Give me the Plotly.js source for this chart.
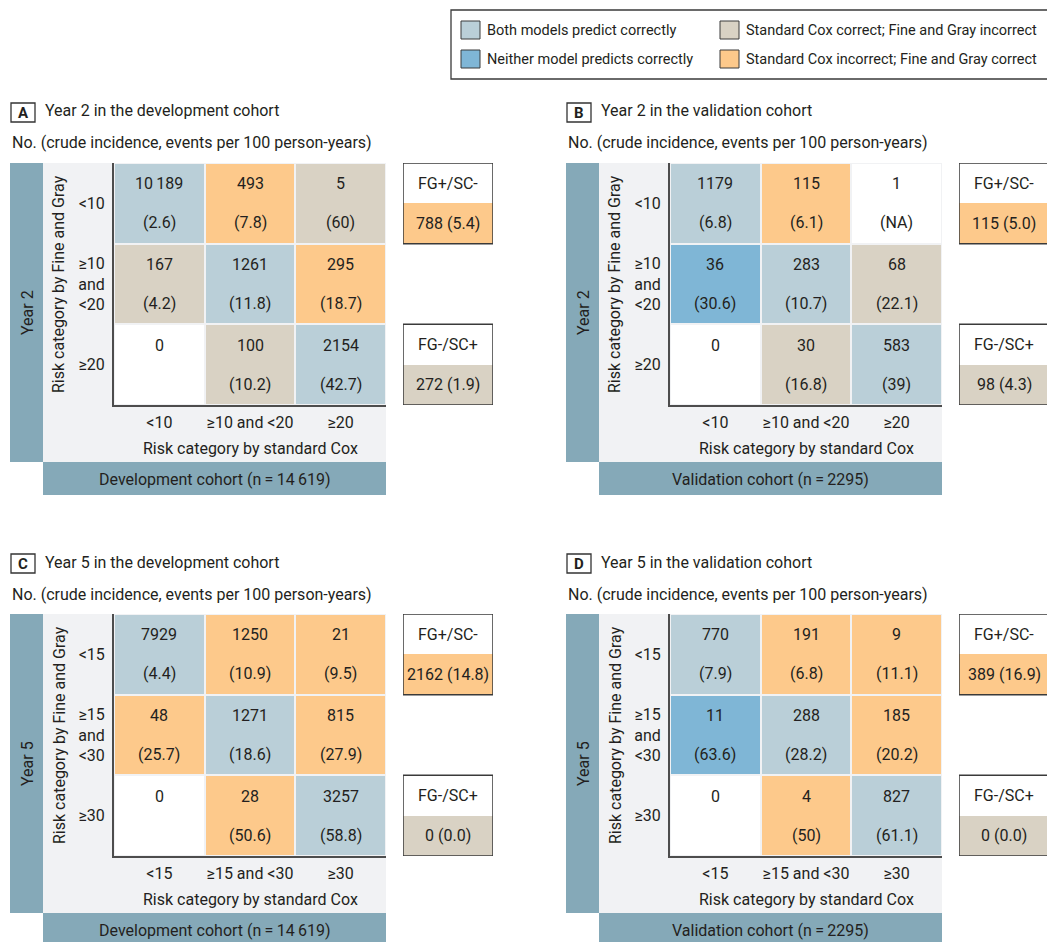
<!DOCTYPE html>
<html><head><meta charset="utf-8">
<script src="https://cdn.plot.ly/plotly-3.0.1.min.js"></script>
<style>html,body{margin:0;padding:0;background:#fff}#chart{width:1047px;height:942px}</style>
</head><body><div id="chart"></div>
<script>
// ---------------- DATA ----------------
const panelLetters = ['A', 'B', 'C', 'D'];
const panelTitles = ['Year 2 in the development cohort', 'Year 2 in the validation cohort',
                     'Year 5 in the development cohort', 'Year 5 in the validation cohort'];
const subtitleText = 'No. (crude incidence, events per 100 person-years)';
const yearLabels = ['Year 2', 'Year 2', 'Year 5', 'Year 5'];
const cohortLabels = ['Development cohort (n\u2009=\u200914\u2009619)', 'Validation cohort (n\u2009=\u20092295)',
                      'Development cohort (n\u2009=\u200914\u2009619)', 'Validation cohort (n\u2009=\u20092295)'];
const xAxisTitle = 'Risk category by standard Cox';
const yAxisTitle = 'Risk category by Fine and Gray';

const year2ColLabels = ['<10', '≥10 and <20', '≥20'];
const year2RowLabels = ['<10', '≥10<br>and<br><20', '≥20'];
const year5ColLabels = ['<15', '≥15 and <30', '≥30'];
const year5RowLabels = ['<15', '≥15<br>and<br><30', '≥30'];

// counts [FG row][SC col]
const countsA = [[10189, 493, 5], [167, 1261, 295], [0, 100, 2154]];
const countsB = [[1179, 115, 1], [36, 283, 68], [0, 30, 583]];
const countsC = [[7929, 1250, 21], [48, 1271, 815], [0, 28, 3257]];
const countsD = [[770, 191, 9], [11, 288, 185], [0, 4, 827]];

// crude incidence, events per 100 person-years ('' = not shown)
const incidenceA = [['2.6', '7.8', '60'], ['4.2', '11.8', '18.7'], ['', '10.2', '42.7']];
const incidenceB = [['6.8', '6.1', 'NA'], ['30.6', '10.7', '22.1'], ['', '16.8', '39']];
const incidenceC = [['4.4', '10.9', '9.5'], ['25.7', '18.6', '27.9'], ['', '50.6', '58.8']];
const incidenceD = [['7.9', '6.8', '11.1'], ['63.6', '28.2', '20.2'], ['', '50', '61.1']];

// cell class: 0 none, 1 both correct, 2 neither correct, 3 SC correct/FG incorrect, 4 SC incorrect/FG correct
const classA = [[1, 4, 3], [3, 1, 4], [0, 3, 1]];
const classB = [[1, 4, 0], [2, 1, 3], [0, 3, 1]];
const classC = [[1, 4, 4], [4, 1, 4], [0, 4, 1]];
const classD = [[1, 4, 4], [2, 1, 4], [0, 4, 1]];

const sideLabels = ['FG+/SC-', 'FG-/SC+'];
const sideValues = [['788 (5.4)', '272 (1.9)'], ['115 (5.0)', '98 (4.3)'],
                    ['2162 (14.8)', '0 (0.0)'], ['389 (16.9)', '0 (0.0)']];
const sideClasses = [4, 3];

const legendLabels = ['Both models predict correctly', 'Neither model predicts correctly',
                      'Standard Cox correct; Fine and Gray incorrect', 'Standard Cox incorrect; Fine and Gray correct'];
const legendClasses = [1, 2, 3, 4];

const panelCounts = [countsA, countsB, countsC, countsD];
const panelIncidence = [incidenceA, incidenceB, incidenceC, incidenceD];
const panelClasses = [classA, classB, classC, classD];
const panelColLabels = [year2ColLabels, year2ColLabels, year5ColLabels, year5ColLabels];
const panelRowLabels = [year2RowLabels, year2RowLabels, year5RowLabels, year5RowLabels];

// ---------------- STYLE ----------------
const W = 1047, H = 942;
const FONT = 'Roboto, "Liberation Sans", Arial, sans-serif';
const TXT = '#231f20';
const CLASS_COLORS = ['#ffffff', '#bacfd8', '#7fb6d6', '#d9d2c4', '#fdc98b'];
const BAND = '#85a9b8';
const PANEL_BG = '#f1f2f4';
const offsets = [[0, 0], [556, 0], [0, 451], [556, 451]];

const colorscale = [];
CLASS_COLORS.forEach((c, i) => { colorscale.push([i / 5, c]); colorscale.push([(i + 1) / 5, c]); });

const px = v => v / W, py = v => 1 - v / H;
const data = [], shapes = [], annotations = [];
const layout = {
  width: W, height: H, margin: {l: 0, r: 0, t: 0, b: 0},
  paper_bgcolor: '#ffffff', plot_bgcolor: 'rgba(0,0,0,0)', showlegend: false,
  font: {family: FONT, size: 16, color: TXT}
};

function ann(x, y, text, opts) {
  annotations.push(Object.assign({x: px(x), y: py(y), xref: 'paper', yref: 'paper', text: text,
    showarrow: false, xanchor: 'center', yanchor: 'middle', font: {family: FONT, size: 16, color: TXT}}, opts || {}));
}
function rect(x0, y0, x1, y1, fill, line, layer) {
  shapes.push({type: 'rect', xref: 'paper', yref: 'paper', x0: px(x0), x1: px(x1), y0: py(y1), y1: py(y0),
    fillcolor: fill, line: line || {width: 0}, layer: layer || 'below'});
}

// ---------------- PANELS ----------------
panelLetters.forEach((letter, p) => {
  const [dx, dy] = offsets[p];
  const gi = 2 * p + 1, si = 2 * p + 2;
  const gx = gi === 1 ? 'x' : 'x' + gi, gy = gi === 1 ? 'y' : 'y' + gi;
  const sx = 'x' + si, sy = 'y' + si;

  // decorative bands
  rect(dx + 10, dy + 163, dx + 43, dy + 462, BAND);
  rect(dx + 43, dy + 163, dx + 386, dy + 462, PANEL_BG);
  rect(dx + 43, dy + 462, dx + 386, dy + 495, BAND);

  // letter box and titles
  rect(dx + 11, dy + 103, dx + 35, dy + 122, 'rgba(0,0,0,0)', {color: '#333', width: 1.3}, 'above');
  ann(dx + 23, dy + 112.5, '<b>' + letter + '</b>', {font: {family: FONT, size: 15, color: TXT}});
  ann(dx + 43, dy + 111, panelTitles[p], {xanchor: 'left'});
  ann(dx + 10, dy + 143, subtitleText, {xanchor: 'left'});
  ann(dx + 27, dy + 313, yearLabels[p], {textangle: -90});
  ann(dx + 59, dy + 284, yAxisTitle, {textangle: -90});
  ann(dx + 250, dy + 448, xAxisTitle);
  ann(dx + 214.5, dy + 479, cohortLabels[p]);

  // main grid axes
  layout[gi === 1 ? 'xaxis' : 'xaxis' + gi] = {
    domain: [px(dx + 114), px(dx + 386)], anchor: gy, range: [-0.5, 2.5],
    tickvals: [0, 1, 2], ticktext: panelColLabels[p], ticks: '', ticklabelstandoff: 2,
    showline: true, linecolor: '#4d4d4d', linewidth: 2, showgrid: false, zeroline: false,
    tickfont: {family: FONT, size: 16, color: TXT}, fixedrange: true
  };
  layout[gi === 1 ? 'yaxis' : 'yaxis' + gi] = {
    domain: [py(dy + 405), py(dy + 163)], anchor: gx, range: [2.5, -0.5],
    tickvals: [0, 1, 2], ticktext: panelRowLabels[p], ticks: '', ticklabelstandoff: 4,
    showline: true, linecolor: '#4d4d4d', linewidth: 2, showgrid: false, zeroline: false,
    tickfont: {family: FONT, size: 16, color: TXT}, fixedrange: true
  };
  data.push({
    type: 'heatmap', xaxis: gx, yaxis: gy, x: [0, 1, 2], y: [0, 1, 2], z: panelClasses[p],
    zmin: -0.5, zmax: 4.5, colorscale: colorscale, showscale: false, xgap: 2, ygap: 2, hoverinfo: 'skip'
  });
  panelCounts[p].forEach((row, r) => row.forEach((v, c) => {
    const txt = v >= 10000 ? String(v).slice(0, -3) + '\u2009' + String(v).slice(-3) : String(v);
    annotations.push({x: c, y: r, xref: gx, yref: gy, text: txt, showarrow: false, yshift: 19.5,
      font: {family: FONT, size: 16, color: TXT}});
    const inc = panelIncidence[p][r][c];
    if (inc !== '') annotations.push({x: c, y: r, xref: gx, yref: gy, text: '(' + inc + ')', showarrow: false,
      yshift: -19.5, font: {family: FONT, size: 16, color: TXT}});
  }));

  // side boxes (FG+/SC- and FG-/SC+)
  const left = dx + 403, right = Math.min(W, dx + 493);
  layout['xaxis' + si] = {domain: [px(left), px(right)], anchor: sy, range: [-0.5, -0.5 + (right - left) / 90],
    visible: false, fixedrange: true};
  layout['yaxis' + si] = {domain: [py(dy + 405), py(dy + 163)], anchor: sx, range: [5.5, -0.5],
    visible: false, fixedrange: true};
  data.push({
    type: 'heatmap', xaxis: sx, yaxis: sy, x: [0], y: [0, 1, 2, 3, 4, 5],
    z: [[0], [sideClasses[0]], [null], [null], [0], [sideClasses[1]]],
    zmin: -0.5, zmax: 4.5, colorscale: colorscale, showscale: false, hoverinfo: 'skip'
  });
  [0, 1].forEach(k => {
    shapes.push({type: 'rect', xref: sx, yref: sy, x0: -0.5, x1: 0.5, y0: 4 * k - 0.5, y1: 4 * k + 1.5,
      line: {color: '#3a3a3a', width: 1.5}, fillcolor: 'rgba(0,0,0,0)', layer: 'above'});
    annotations.push({x: 0, y: 4 * k, xref: sx, yref: sy, text: sideLabels[k], showarrow: false,
      font: {family: FONT, size: 16, color: TXT}});
    annotations.push({x: 0, y: 4 * k + 1, xref: sx, yref: sy, text: sideValues[p][k], showarrow: false,
      font: {family: FONT, size: 16, color: TXT}});
  });
});

// ---------------- LEGEND ----------------
rect(451, 10, 1070, 79, 'rgba(0,0,0,0)', {color: '#3a3a3a', width: 1.3}, 'above');
const legendPos = [[461, 21], [461, 50], [720, 21], [720, 50]];
legendLabels.forEach((lab, i) => {
  const [lx, ly] = legendPos[i];
  rect(lx, ly, lx + 19, ly + 18, CLASS_COLORS[legendClasses[i]], {color: '#3a3a3a', width: 1}, 'above');
  ann(lx + 24, ly + 10, lab, {xanchor: 'left', font: {family: FONT, size: 14.5, color: TXT}});
});

layout.shapes = shapes;
layout.annotations = annotations;
Plotly.newPlot('chart', data, layout, {displayModeBar: false, staticPlot: true});
</script>
</body></html>
